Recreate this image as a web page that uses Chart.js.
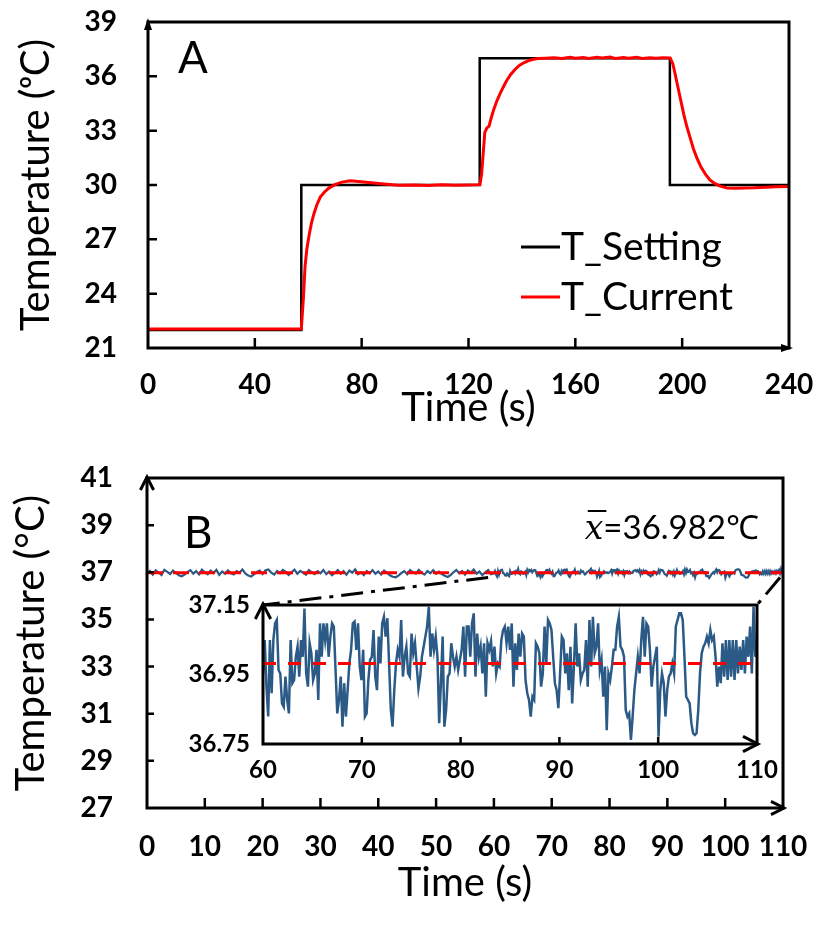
<!DOCTYPE html>
<html>
<head>
<meta charset="utf-8">
<script src="https://cdn.jsdelivr.net/npm/chart.js@4.4.0/dist/chart.umd.min.js"></script>
<style>
  html, body { margin: 0; padding: 0; background: #fff; }
  #wrap { position: relative; width: 815px; height: 926px; }
  canvas { position: absolute; }
</style>
</head>
<body>
<div id="wrap">
  <canvas id="chartA" width="815" height="440" style="left:0;top:0;width:815px;height:440px"></canvas>
  <canvas id="chartB" width="815" height="486" style="left:0;top:440px;width:815px;height:486px"></canvas>
  <canvas id="chartInset" width="620" height="230" style="left:170px;top:560px;width:620px;height:230px"></canvas>
</div>
<script>
// Panel A: set temperature vs measured temperature
const settingTime = [0, 57.4, 57.4, 124.2, 124.2, 195.4, 195.4, 240];
const settingTemp = [22, 22, 30, 30, 37, 37, 30, 30];

const currentTime = [
    0, 57.4, 58.2, 58.8, 59.5, 60.4, 61.2, 62.1, 63.2, 64.5,
    66.0, 67.7, 70.0, 72.6, 75.8, 80.7, 87.2, 93.7, 100, 105,
    110, 115, 120, 124.3, 124.9, 125.3, 126.1, 126.9, 127.7, 128.5,
    129.3, 130.5, 131.7, 133.0, 134.2, 135.8, 137.4, 139.0, 140.7, 142.3,
    143.9, 146.0, 148.8, 152, 155, 158, 160, 163, 165, 168,
    170, 173, 175, 178, 180, 183, 185, 188, 190, 193,
    195.5, 196.5, 197.4, 198.2, 199.0, 199.8, 200.6, 201.8, 203.0, 204.2,
    205.5, 207.0, 208.7, 210.3, 212.0, 214.0, 216.8, 220, 223.3, 227,
    231.4, 235, 240
];
const currentTemp = [
    22.05, 22.05, 23.8, 25.5, 26.5, 27.3, 27.9, 28.4, 28.9, 29.33,
    29.6, 29.83, 30.02, 30.16, 30.23, 30.16, 30.07, 29.99, 30.0, 29.97,
    30.02, 29.99, 30.0, 30.02, 30.6, 31.35, 32.9, 33.15, 33.25, 33.7,
    34.1, 34.6, 35.0, 35.4, 35.74, 36.1, 36.38, 36.6, 36.75, 36.85,
    36.93, 36.98, 37.0, 37.03, 36.99, 37.05, 37.0, 37.04, 36.98, 37.05,
    37.01, 37.06, 36.99, 37.04, 37.0, 37.05, 36.99, 37.03, 37.0, 37.03,
    37.02, 36.7, 36.1, 35.55, 35.0, 34.45, 33.9, 33.2, 32.6, 32.0,
    31.5, 31.0, 30.6, 30.3, 30.1, 29.95, 29.84, 29.82, 29.84, 29.85,
    29.88, 29.9, 29.92
];
const ticksA_x = [0, 40, 80, 120, 160, 200, 240];
const ticksA_y = [21, 24, 27, 30, 33, 36, 39];

// Panel B: holding at 37 C, 0-59.5 s read every 0.5 s
const earlyStep = 0.5;
const earlyTemp = [
    36.95, 37.06, 36.90, 37.08, 36.99, 36.88, 37.10, 37.02, 36.93, 37.07,
    36.97, 36.87, 36.83, 36.90, 37.01, 37.09, 36.94, 37.05, 36.91, 37.11,
    37.00, 36.92, 37.07, 36.97, 37.10, 36.89, 37.03, 36.94, 37.08, 36.96,
    36.91, 37.05, 36.98, 37.12, 36.95, 36.86, 36.82, 36.91, 37.01, 37.07,
    36.93, 37.09, 37.12, 36.98, 36.90, 37.05, 36.96, 37.10, 37.02, 36.89,
    37.00, 37.11, 36.94, 37.06, 36.98, 36.90, 37.09, 37.00, 36.92, 37.05,
    36.96, 37.10, 36.92, 37.03, 36.88, 36.98, 37.09, 36.94, 37.05, 36.90,
    37.07, 36.98, 37.12, 36.92, 37.00, 36.88, 37.05, 36.96, 37.09, 36.94,
    37.03, 36.90, 37.07, 36.98, 36.87, 36.81, 36.79, 36.86, 36.97, 37.05,
    36.92, 37.09, 37.00, 36.94, 37.10, 36.98, 36.90, 37.05, 36.96, 37.09,
    36.94, 37.03, 36.92, 36.85, 36.80, 36.88, 37.00, 37.10, 36.96, 37.05,
    36.90, 37.07, 36.98, 37.12, 36.94, 37.03, 36.88, 37.00, 37.09, 36.92
];
// 60-110 s (same samples shown in the inset)
const insetStart = 60;
const insetEnd = 110;
const insetTemp = [
    36.953, 37.049, 36.915, 36.829, 37.049, 36.896, 37.049, 37.097, 37.107, 36.963,
    36.953, 36.867, 36.857, 36.944, 36.877, 36.838, 37.049, 36.925, 36.934, 37.001,
    37.030, 36.944, 37.049, 37.001, 37.140, 36.953, 36.915, 37.040, 37.011, 36.934,
    36.953, 37.021, 36.877, 37.097, 37.001, 37.097, 37.049, 37.097, 37.001, 37.059,
    37.097, 37.088, 36.963, 36.838, 36.877, 36.944, 36.800, 36.925, 36.829, 36.905,
    36.982, 37.021, 37.097, 37.102, 37.021, 37.097, 36.973, 36.934, 37.021, 36.829,
    36.838, 36.934, 36.992, 37.001, 37.078, 36.944, 36.905, 37.059, 36.982, 37.097,
    37.116, 37.059, 37.112, 36.982, 36.848, 36.800, 36.905, 36.982, 37.021, 37.001,
    37.107, 36.944, 37.001, 37.030, 36.953, 36.944, 37.068, 37.011, 37.040, 36.973,
    36.910, 36.944, 37.001, 37.030, 37.059, 37.088, 37.145, 37.001, 37.068, 37.021,
    37.059, 37.001, 36.810, 36.925, 37.059, 36.800, 36.848, 36.944, 36.953, 37.040,
    37.001, 36.973, 37.001, 36.963, 36.992, 37.021, 37.088, 36.944, 37.088, 37.088,
    37.001, 37.097, 37.126, 36.944, 37.068, 37.001, 37.030, 36.953, 37.040, 36.886,
    37.040, 37.021, 37.045, 36.973, 37.030, 36.953, 36.982, 36.973, 37.049, 37.078,
    37.088, 37.040, 37.088, 37.021, 37.097, 36.915, 37.040, 36.963, 37.068, 37.001,
    37.068, 37.059, 36.934, 36.896, 36.877, 36.829, 36.886, 36.877, 37.040, 37.030,
    37.011, 36.915, 36.953, 37.088, 36.982, 37.107, 37.097, 37.078, 37.001, 36.925,
    36.905, 36.853, 36.953, 37.059, 37.049, 36.953, 37.011, 36.905, 37.030, 36.867,
    36.973, 37.097, 36.973, 37.011, 36.934, 36.953, 36.963, 37.049, 36.915, 37.107,
    36.973, 37.116, 37.011, 37.030, 37.097, 36.963, 36.992, 36.886, 36.973, 36.790,
    36.953, 36.934, 36.973, 37.021, 37.021, 37.088, 37.116, 37.030, 37.021, 37.001,
    36.848, 36.829, 36.838, 36.762, 36.829, 36.905, 36.953, 37.001, 36.953, 37.049,
    37.116, 37.001, 37.097, 37.088, 37.021, 36.915, 36.973, 37.001, 37.030, 36.771,
    36.905, 36.953, 36.925, 36.829, 36.905, 36.944, 36.953, 36.982, 36.953, 37.088,
    37.107, 37.126, 37.126, 37.107, 37.001, 36.886, 36.877, 36.867, 36.810, 36.781,
    36.776, 36.781, 36.848, 36.953, 37.011, 37.030, 37.040, 37.059, 37.040, 37.078,
    37.049, 37.059, 37.001, 36.915, 36.973, 36.925, 37.040, 36.944, 37.049, 36.934,
    37.049, 36.944, 37.049, 36.934, 37.049, 36.953, 37.030, 36.963, 37.049, 36.953,
    37.059, 37.001, 37.088, 36.953, 37.145, 37.001, 37.049
];
const meanTemp = 36.982;
const ticksB_x = [0, 10, 20, 30, 40, 50, 60, 70, 80, 90, 100, 110];
const ticksB_y = [27, 29, 31, 33, 35, 37, 39, 41];
const ticksInset_x = [60, 70, 80, 90, 100, 110];
const ticksInset_y = [36.75, 36.95, 37.15];
// where the zoom connectors leave the main trace
const zoomFrom = 59;
const zoomLevel = 36.78;

Chart.defaults.font.family = 'Lato, "Open Sans", sans-serif';
Chart.defaults.color = '#000';

const insetStep = (insetEnd - insetStart) / (insetTemp.length - 1);
const earlyPoints = earlyTemp.map((v, i) => ({ x: i * earlyStep, y: v }));
const insetPoints = insetTemp.map((v, i) => ({ x: insetStart + i * insetStep, y: v }));

function setTicks(list) {
    return scale => { scale.ticks = list.map(v => ({ value: v })); };
}

// fixed axis box size, no extra padding from label overflow
function fixSize(key, size) {
    return scale => {
        scale[key] = size;
        scale.paddingTop = 0;
        scale.paddingBottom = 0;
        scale.paddingLeft = 0;
        scale.paddingRight = 0;
    };
}

// frame, inward tick marks and axis arrows
function framePlugin(o) {
    return {
        id: 'frame',
        afterDraw(chart) {
            const { ctx, chartArea: a, scales: { x, y } } = chart;
            ctx.save();
            ctx.strokeStyle = '#000';
            ctx.fillStyle = '#000';
            ctx.lineWidth = o.border;
            ctx.strokeRect(a.left, a.top, a.right - a.left, a.bottom - a.top);

            ctx.lineWidth = o.tickWidth;
            ctx.beginPath();
            x.ticks.forEach(t => {
                const px = x.getPixelForValue(t.value);
                if (px <= a.left + 2 || px >= a.right - 2) return;
                ctx.moveTo(px, a.bottom);
                ctx.lineTo(px, a.bottom - o.xTick);
            });
            if (o.yTick) {
                y.ticks.forEach(t => {
                    const py = y.getPixelForValue(t.value);
                    if (py <= a.top + 2 || py >= a.bottom - 2) return;
                    ctx.moveTo(a.left, py);
                    ctx.lineTo(a.left + o.yTick, py);
                });
            }
            ctx.stroke();

            const s = o.arrow;
            if (o.filled) {
                ctx.beginPath();
                ctx.moveTo(a.left, a.top - 4);
                ctx.lineTo(a.left - s * 0.5, a.top + s);
                ctx.lineTo(a.left + s * 0.5, a.top + s);
                ctx.closePath();
                ctx.fill();
                ctx.beginPath();
                ctx.moveTo(a.right + 4, a.bottom);
                ctx.lineTo(a.right - s, a.bottom - s * 0.5);
                ctx.lineTo(a.right - s, a.bottom + s * 0.5);
                ctx.closePath();
                ctx.fill();
            } else {
                ctx.lineWidth = o.arrowWidth;
                ctx.lineJoin = 'miter';
                ctx.beginPath();
                ctx.moveTo(a.left - s * 0.55, a.top + s);
                ctx.lineTo(a.left, a.top - 1);
                ctx.lineTo(a.left + s * 0.55, a.top + s);
                ctx.moveTo(a.right - s, a.bottom - s * 0.55);
                ctx.lineTo(a.right + 1, a.bottom);
                ctx.lineTo(a.right - s, a.bottom + s * 0.55);
                ctx.stroke();
            }
            ctx.restore();
        }
    };
}

// panel letter and legend for A
const labelsA = {
    id: 'labelsA',
    afterDraw(chart) {
        const { ctx, chartArea: a } = chart;
        ctx.save();
        ctx.fillStyle = '#000';
        ctx.textBaseline = 'alphabetic';
        ctx.font = '44px Lato';
        ctx.fillText('A', a.left + 30, a.top + 51);

        ctx.font = '39px Lato';
        chart.data.datasets.forEach((ds, i) => {
            const base = a.top + 238 + i * 50;
            ctx.strokeStyle = ds.borderColor;
            ctx.lineWidth = 3;
            ctx.beginPath();
            ctx.moveTo(a.left + 373, base - 13);
            ctx.lineTo(a.left + 412, base - 13);
            ctx.stroke();
            ctx.fillText(ds.label, a.left + 413, base);
        });
        ctx.restore();
    }
};

// panel letter and mean value for B
const labelsB = {
    id: 'labelsB',
    afterDraw(chart) {
        const { ctx, chartArea: a } = chart;
        ctx.save();
        ctx.fillStyle = '#000';
        ctx.strokeStyle = '#000';
        ctx.textBaseline = 'alphabetic';
        ctx.font = '44px Lato';
        ctx.fillText('B', a.left + 37, a.top + 70);

        const rest = '=' + meanTemp.toFixed(3) + '\u2103';
        ctx.font = 'italic 33px "DejaVu Serif"';
        const xW = ctx.measureText('x').width;
        ctx.font = '33px Lato';
        const rW = ctx.measureText(rest).width;
        const base = a.top + 61;
        const x0 = a.right - 24 - rW - xW;
        ctx.font = 'italic 33px "DejaVu Serif"';
        ctx.fillText('x', x0, base);
        ctx.lineWidth = 2;
        ctx.beginPath();
        ctx.moveTo(x0 + 3, base - 28);
        ctx.lineTo(x0 + xW + 3, base - 28);
        ctx.stroke();
        ctx.font = '33px Lato';
        ctx.fillText(rest, x0 + xW, base);
        ctx.restore();
    }
};

const tickFont = { size: 28, weight: 'bold' };
const titleFont = { size: 40 };

const chartA = new Chart(document.getElementById('chartA'), {
    type: 'line',
    data: {
        datasets: [
            {
                label: 'T_Setting',
                data: settingTime.map((t, i) => ({ x: t, y: settingTemp[i] })),
                borderColor: '#000000',
                borderWidth: 2.5,
                order: 1
            },
            {
                label: 'T_Current',
                data: currentTime.map((t, i) => ({ x: t, y: currentTemp[i] })),
                borderColor: '#ff0000',
                borderWidth: 3,
                order: 0
            }
        ]
    },
    options: {
        responsive: false,
        animation: false,
        events: [],
        layout: { padding: { top: 22, right: 26, left: 0, bottom: 0 } },
        elements: { point: { radius: 0 }, line: { tension: 0, fill: false } },
        plugins: { legend: { display: false }, tooltip: { enabled: false } },
        scales: {
            x: {
                type: 'linear', min: 0, max: 240,
                afterBuildTicks: setTicks(ticksA_x),
                afterFit: fixSize('height', 92),
                grid: { display: false, drawTicks: false },
                border: { display: false },
                ticks: { padding: 20, font: tickFont, maxRotation: 0, autoSkip: false },
                title: { display: true, text: 'Time (s)', font: titleFont, padding: { top: 0, bottom: 8 } }
            },
            y: {
                type: 'linear', min: 21, max: 39,
                afterBuildTicks: setTicks(ticksA_y),
                afterFit: fixSize('width', 148),
                grid: { display: false, drawTicks: false },
                border: { display: false },
                ticks: { padding: 31, font: tickFont, autoSkip: false },
                title: { display: true, text: 'Temperature (\u1D52C)', font: titleFont, padding: { top: 12, bottom: 0 } }
            }
        }
    },
    plugins: [framePlugin({ border: 3, tickWidth: 2.5, xTick: 10, yTick: 9, arrow: 8, filled: true }), labelsA]
});

const chartB = new Chart(document.getElementById('chartB'), {
    type: 'line',
    data: {
        datasets: [
            {
                label: 'mean',
                data: [{ x: 0, y: meanTemp }, { x: 110, y: meanTemp }],
                borderColor: '#ff0000',
                borderWidth: 3,
                borderDash: [16, 10]
            },
            {
                label: 'T',
                data: earlyPoints.concat(insetPoints),
                borderColor: '#2b5a86',
                borderWidth: 2.2
            }
        ]
    },
    options: {
        responsive: false,
        animation: false,
        events: [],
        layout: { padding: { top: 38, right: 32, left: 0, bottom: 0 } },
        elements: { point: { radius: 0 }, line: { tension: 0, fill: false } },
        plugins: { legend: { display: false }, tooltip: { enabled: false } },
        scales: {
            x: {
                type: 'linear', min: 0, max: 110,
                afterBuildTicks: setTicks(ticksB_x),
                afterFit: fixSize('height', 118),
                grid: { display: false, drawTicks: false },
                border: { display: false },
                ticks: { padding: 22, font: tickFont, maxRotation: 0, autoSkip: false },
                title: { display: true, text: 'Time (s)', font: titleFont, padding: { top: 0, bottom: 19 } }
            },
            y: {
                type: 'linear', min: 27, max: 41,
                afterBuildTicks: setTicks(ticksB_y),
                afterFit: fixSize('width', 147),
                grid: { display: false, drawTicks: false },
                border: { display: false },
                ticks: { padding: 34, font: tickFont, autoSkip: false },
                title: { display: true, text: 'Temperature (\u00B0C)', font: titleFont, padding: { top: 7, bottom: 0 } }
            }
        }
    },
    plugins: [framePlugin({ border: 3, tickWidth: 2.5, xTick: 10, yTick: 7, arrow: 12, arrowWidth: 3, filled: false }), labelsB]
});

// dash-dot lines joining the main trace to the inset
const connectors = {
    id: 'connectors',
    afterDraw(chart) {
        const { ctx, chartArea: a } = chart;
        const bx = chartB.scales.x, by = chartB.scales.y;
        const cb = chartB.canvas, ci = chart.canvas;
        const dx = cb.offsetLeft - ci.offsetLeft;
        const dy = cb.offsetTop - ci.offsetTop;
        ctx.save();
        ctx.strokeStyle = '#000';
        ctx.lineWidth = 3;
        ctx.setLineDash([22, 8, 4, 8]);
        ctx.beginPath();
        ctx.moveTo(bx.getPixelForValue(zoomFrom) + dx, by.getPixelForValue(zoomLevel) + dy);
        ctx.lineTo(a.left, a.top);
        ctx.moveTo(bx.getPixelForValue(insetEnd) + dx - 3, by.getPixelForValue(zoomLevel) + dy);
        ctx.lineTo(a.right, a.top);
        ctx.stroke();
        ctx.restore();
    }
};

const chartInset = new Chart(document.getElementById('chartInset'), {
    type: 'line',
    data: {
        datasets: [
            {
                label: 'mean',
                data: [{ x: insetStart, y: meanTemp }, { x: insetEnd, y: meanTemp }],
                borderColor: '#ff0000',
                borderWidth: 3,
                borderDash: [13, 12]
            },
            {
                label: 'T',
                data: insetPoints,
                borderColor: '#2b5a86',
                borderWidth: 2.5
            }
        ]
    },
    options: {
        responsive: false,
        animation: false,
        events: [],
        layout: { padding: { top: 45, right: 33, left: 0, bottom: 0 } },
        elements: { point: { radius: 0 }, line: { tension: 0, fill: false } },
        plugins: { legend: { display: false }, tooltip: { enabled: false } },
        scales: {
            x: {
                type: 'linear', min: insetStart, max: insetEnd,
                afterBuildTicks: setTicks(ticksInset_x),
                afterFit: fixSize('height', 46),
                grid: { display: false, drawTicks: false },
                border: { display: false },
                ticks: { padding: 12, font: { size: 24, weight: 'bold' }, maxRotation: 0, autoSkip: false }
            },
            y: {
                type: 'linear', min: 36.75, max: 37.15,
                afterBuildTicks: setTicks(ticksInset_y),
                afterFit: fixSize('width', 93),
                grid: { display: false, drawTicks: false },
                border: { display: false },
                ticks: { padding: 13, font: { size: 24, weight: 'bold' }, autoSkip: false, callback: v => v.toFixed(2) }
            }
        }
    },
    plugins: [framePlugin({ border: 3, tickWidth: 2.5, xTick: 7, yTick: 0, arrow: 14, arrowWidth: 3, filled: false }), connectors]
});
</script>
</body>
</html>
